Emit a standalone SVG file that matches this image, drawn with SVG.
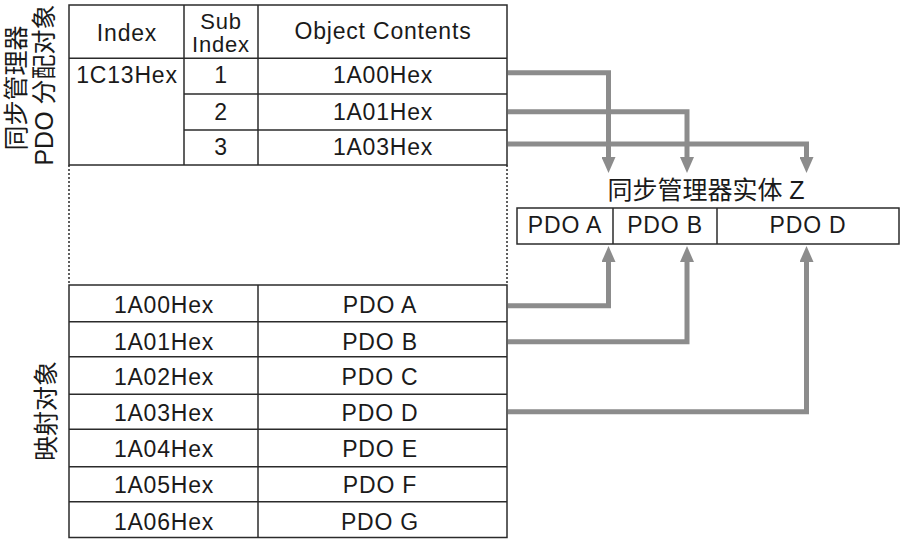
<svg xmlns="http://www.w3.org/2000/svg" width="903" height="539" viewBox="0 0 903 539">
<style>
.ln{fill:none;stroke:#2b2b2b;stroke-width:1.5}
.dot{fill:none;stroke:#2b2b2b;stroke-width:1.5;stroke-dasharray:2 2}
.t{font-family:"Liberation Sans",Arial,sans-serif;font-size:23px;letter-spacing:0.8px;fill:#1a1a1a;text-anchor:middle}
.s{font-size:22px}
.c{font-family:"Liberation Sans","Noto Sans CJK SC",sans-serif;font-size:25px;fill:#1a1a1a;text-anchor:middle}
.conn{fill:none;stroke:#8c8c8c;stroke-width:5;stroke-linejoin:miter}
</style>
<defs>
<marker id="ah" viewBox="0 0 16 14" markerUnits="userSpaceOnUse" markerWidth="16" markerHeight="14" refX="8" refY="7" orient="auto">
<path d="M0,0 L16,7 L0,14 z" fill="#8c8c8c"/>
</marker>
</defs>
<rect width="903" height="539" fill="#ffffff"/>

<g id="label-sm">
<text class="c" transform="translate(25,88) rotate(-90)">同步管理器</text>
<text class="c" transform="translate(53,85) rotate(-90)">PDO 分配对象</text>
</g>
<g id="label-map">
<text class="c" transform="translate(55,411) rotate(-90)">映射对象</text>
</g>

<g id="sm-assign-table">
<rect class="ln" x="69" y="5" width="438" height="160"/>
<line class="ln" x1="69" y1="58.3" x2="507" y2="58.3"/>
<line class="ln" x1="184" y1="5" x2="184" y2="165"/>
<line class="ln" x1="258" y1="5" x2="258" y2="165"/>
<line class="ln" x1="184" y1="94" x2="507" y2="94"/>
<line class="ln" x1="184" y1="130" x2="507" y2="130"/>
<line class="dot" x1="69" y1="165" x2="69" y2="285"/>
<line class="dot" x1="507" y1="165" x2="507" y2="285"/>
<text class="t" x="127" y="40.7">Index</text>
<text class="t s" x="221" y="28.5">Sub</text>
<text class="t s" x="221" y="52">Index</text>
<text class="t" x="383" y="38.5">Object Contents</text>
<text class="t" x="127" y="83.3">1C13Hex</text>
<text class="t" x="221" y="83.3">1</text>
<text class="t" x="221" y="120">2</text>
<text class="t" x="221" y="154.5">3</text>
<text class="t" x="383" y="83.3">1A00Hex</text>
<text class="t" x="383" y="120">1A01Hex</text>
<text class="t" x="383" y="154.5">1A03Hex</text>
</g>

<g id="mapping-table">
<rect class="ln" x="69" y="285" width="438" height="252.5"/>
<line class="ln" x1="258" y1="285" x2="258" y2="537.5"/>
<line class="ln" x1="69" y1="321.7" x2="507" y2="321.7"/>
<line class="ln" x1="69" y1="356.7" x2="507" y2="356.7"/>
<line class="ln" x1="69" y1="394.3" x2="507" y2="394.3"/>
<line class="ln" x1="69" y1="429.3" x2="507" y2="429.3"/>
<line class="ln" x1="69" y1="466.7" x2="507" y2="466.7"/>
<line class="ln" x1="69" y1="501.7" x2="507" y2="501.7"/>
<text class="t" x="164" y="312.7">1A00Hex</text>
<text class="t" x="380" y="312.7">PDO A</text>
<text class="t" x="164" y="350">1A01Hex</text>
<text class="t" x="380" y="350">PDO B</text>
<text class="t" x="164" y="385">1A02Hex</text>
<text class="t" x="380" y="385">PDO C</text>
<text class="t" x="164" y="420.7">1A03Hex</text>
<text class="t" x="380" y="420.7">PDO D</text>
<text class="t" x="164" y="456.7">1A04Hex</text>
<text class="t" x="380" y="456.7">PDO E</text>
<text class="t" x="164" y="493.3">1A05Hex</text>
<text class="t" x="380" y="493.3">PDO F</text>
<text class="t" x="164" y="530">1A06Hex</text>
<text class="t" x="380" y="530">PDO G</text>
</g>

<g id="sm-entity">
<text class="c" x="706" y="199">同步管理器实体 Z</text>
<rect class="ln" x="517" y="208" width="382" height="36"/>
<line class="ln" x1="613" y1="208" x2="613" y2="244"/>
<line class="ln" x1="717" y1="208" x2="717" y2="244"/>
<text class="t" x="565" y="232.5">PDO A</text>
<text class="t" x="665" y="232.5">PDO B</text>
<text class="t" x="808" y="232.5">PDO D</text>
</g>

<g id="connectors">
<path class="conn" marker-end="url(#ah)" d="M508,72.8 H608.5 V165"/>
<path class="conn" marker-end="url(#ah)" d="M508,111.7 H687 V165"/>
<path class="conn" marker-end="url(#ah)" d="M508,144 H806.5 V165"/>
<path class="conn" marker-end="url(#ah)" d="M508,305.7 H608.5 V254"/>
<path class="conn" marker-end="url(#ah)" d="M508,341.7 H687 V254"/>
<path class="conn" marker-end="url(#ah)" d="M508,411.7 H806.5 V254"/>
</g>
</svg>
